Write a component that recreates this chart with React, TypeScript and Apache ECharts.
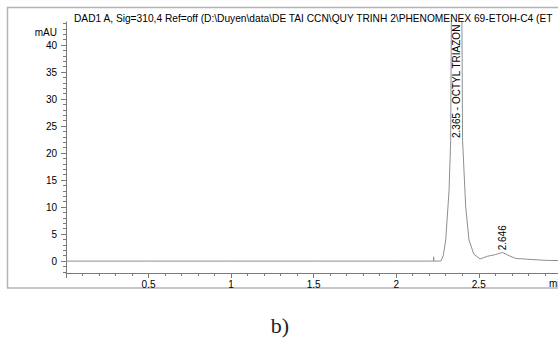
import React, { useEffect, useRef } from "react";
import * as echarts from "echarts";

const TITLE =
  "DAD1 A, Sig=310,4 Ref=off (D:\\Duyen\\data\\DE TAI CCN\\QUY TRINH 2\\PHENOMENEX 69-ETOH-C4 (ET";

// retention time (min) and absorbance (mAU)
const times = [
  0, 0.5, 1.0, 1.5, 2.0, 2.2, 2.226, 2.227, 2.228, 2.27, 2.285, 2.3, 2.32, 2.33,
  2.334, 2.35, 2.365, 2.38, 2.398, 2.402, 2.421, 2.441, 2.47, 2.508, 2.553, 2.6,
  2.644, 2.684, 2.724, 2.795, 2.9, 2.98,
];
const signal = [
  0, 0, 0, 0, 0, 0, 0, 0.8, 0, 0, 1.0, 3.9, 13, 22.4, 44.6, 95, 118, 95, 44.6,
  22.4, 10, 3.9, 1.3, 0.4, 0.9, 1.2, 1.6, 1.0, 0.5, 0.35, 0.15, 0.1,
];

const peakTimes = [2.365, 2.646];
const peakLabelY = [22.8, 2.0];
const peakNames = ["2.365 - OCTYL TRIAZON", "2.646"];

const yMajor = [0, 5, 10, 15, 20, 25, 30, 35, 40];
const yMinor = Array.from({ length: 47 }, (_, i) => i - 2).filter(
  (v) => v % 5 !== 0
);

const FONT = "Liberation Sans, Arial, sans-serif";
const AXIS = "#7a7a7a";

export default function App() {
  const ref = useRef<HTMLDivElement>(null);
  useEffect(() => {
    const chart = echarts.init(ref.current!, null, { renderer: "svg" });
    const yMin = -2.2;
    const yMax = 44.28;
    chart.setOption({
      animation: false,
      backgroundColor: "#fff",
      title: {
        text: TITLE,
        left: 69,
        top: 8,
        textStyle: {
          fontFamily: FONT,
          fontSize: 10.2,
          fontWeight: "normal",
          color: "#000",
        },
      },
      grid: {
        left: 66,
        right: 0,
        top: 22,
        bottom: 66,
        containLabel: false,
        outerBoundsMode: "none",
      },
      xAxis: {
        type: "value",
        min: 0,
        max: 2.98,
        interval: 0.5,
        axisLine: { show: true, onZero: false, lineStyle: { color: AXIS, width: 1 } },
        axisTick: { show: true, length: 5, lineStyle: { color: AXIS } },
        minorTick: { show: true, splitNumber: 5, length: 3, lineStyle: { color: AXIS } },
        splitLine: { show: false },
        minorSplitLine: { show: false },
        axisLabel: {
          margin: 6,
          fontFamily: FONT,
          fontSize: 10,
          color: "#000",
          showMinLabel: false,
          showMaxLabel: false,
          formatter: (v: number) => (v === 0 ? "" : String(v)),
        },
      },
      yAxis: [
        {
          type: "value",
          min: yMin,
          max: yMax,
          axisLine: { show: true, onZero: false, lineStyle: { color: AXIS, width: 1 } },
          axisTick: { show: true, length: 5, customValues: yMajor, lineStyle: { color: AXIS } },
          splitLine: { show: false },
          axisLabel: {
            customValues: yMajor,
            margin: 9,
            fontFamily: FONT,
            fontSize: 10,
            color: "#000",
          },
        },
        {
          type: "value",
          position: "left",
          min: yMin,
          max: yMax,
          axisLine: { show: false },
          axisTick: { show: true, length: 3, customValues: yMinor, lineStyle: { color: AXIS } },
          splitLine: { show: false },
          axisLabel: { show: false },
        },
      ],
      graphic: [
        {
          type: "rect",
          shape: { x: 7.5, y: 7.5, width: 620, height: 280.5 },
          style: { fill: "none", stroke: "#b4b4b4", lineWidth: 1.5 },
          silent: true,
        },
        {
          type: "text",
          x: 57,
          y: 32,
          style: {
            text: "mAU",
            fontFamily: FONT,
            fontSize: 10,
            fill: "#000",
            align: "right",
            verticalAlign: "middle",
          },
        },
        {
          type: "text",
          x: 549,
          y: 283,
          style: {
            text: "min",
            fontFamily: FONT,
            fontSize: 10,
            fill: "#000",
            align: "left",
            verticalAlign: "middle",
          },
        },
        {
          type: "text",
          x: 280,
          y: 325,
          style: {
            text: "b)",
            fontFamily: "Liberation Serif, Times New Roman, serif",
            fontSize: 22,
            fill: "#222",
            align: "center",
            verticalAlign: "middle",
          },
        },
      ],
      series: [
        {
          type: "line",
          data: times.map((t, i) => [t, signal[i]]),
          showSymbol: false,
          symbol: "none",
          smooth: false,
          clip: true,
          lineStyle: { color: "#8f8f8f", width: 1 },
        },
        {
          type: "custom",
          clip: false,
          z: 5,
          data: peakTimes.map((t, i) => [t, peakLabelY[i]]),
          renderItem: (params: any, api: any) => {
            const p = api.coord([api.value(0), api.value(1)]);
            return {
              type: "text",
              x: p[0],
              y: p[1],
              rotation: Math.PI / 2,
              style: {
                text: peakNames[params.dataIndex],
                fontFamily: FONT,
                fontSize: 10,
                fill: "#000",
                align: "left",
                verticalAlign: "middle",
              },
            };
          },
        },
      ],
    });
    return () => chart.dispose();
  }, []);
  return (
    <div
      ref={ref}
      style={{ position: "fixed", left: 0, top: 0, width: 558, height: 339 }}
    />
  );
}
